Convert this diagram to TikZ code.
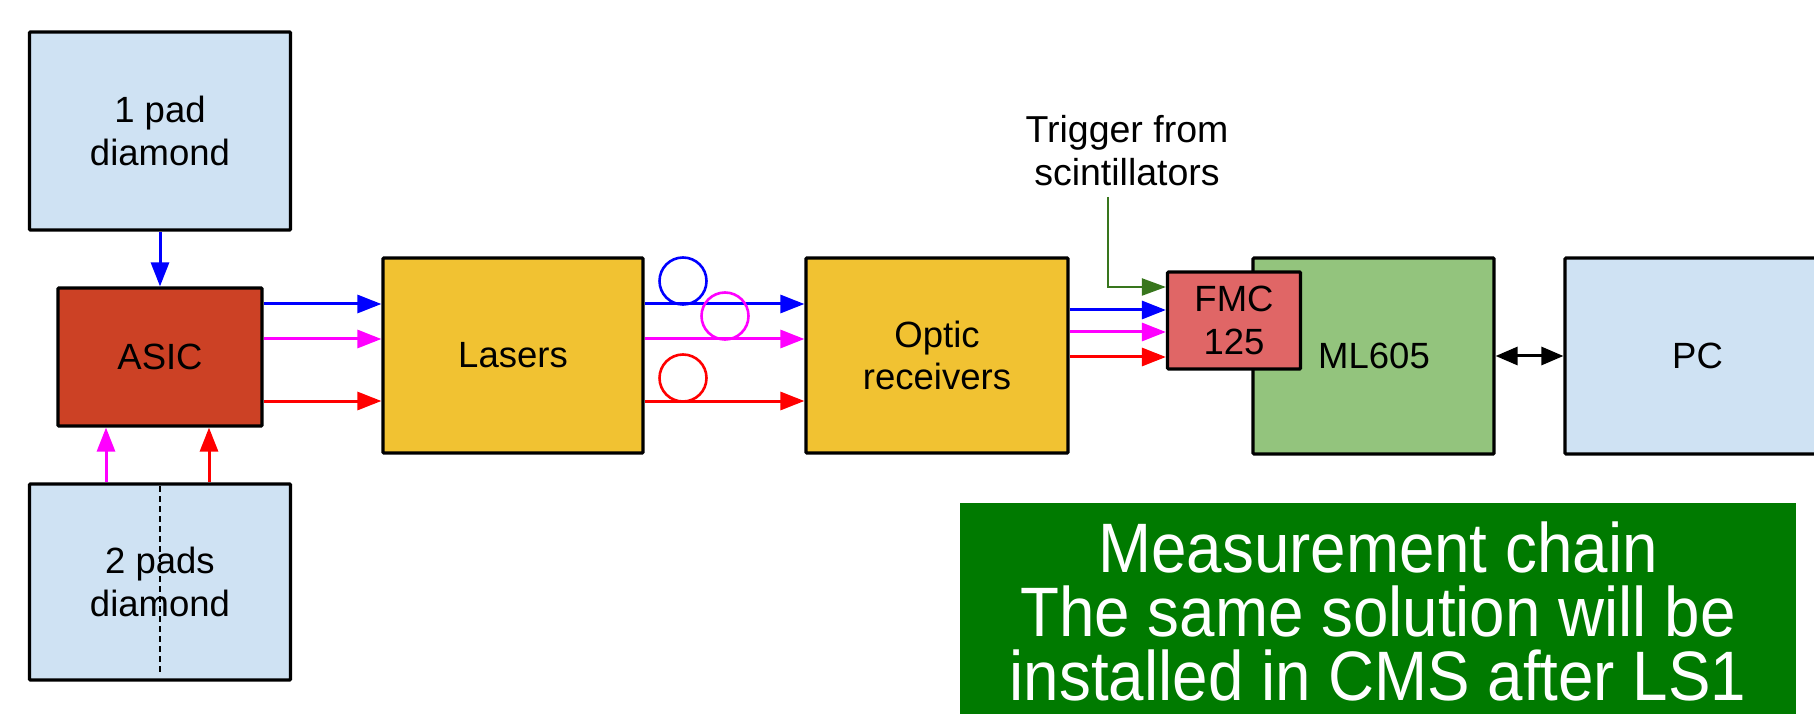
\documentclass[tikz,border=0pt]{standalone}
\usepackage{fontspec}
\setmainfont{Liberation Sans}
\newfontfamily\chainfont[FakeStretch=0.91]{Liberation Sans}
\usetikzlibrary{arrows.meta}
\definecolor{padblue}{HTML}{CFE2F3}
\definecolor{asicred}{HTML}{CC4125}
\definecolor{laseryellow}{HTML}{F1C232}
\definecolor{fmcred}{HTML}{E06666}
\definecolor{mlgreen}{HTML}{93C47D}
\definecolor{chaingreen}{HTML}{007A00}
\definecolor{triggreen}{HTML}{38761D}
\definecolor{sigblue}{HTML}{0000FF}
\definecolor{sigmag}{HTML}{FF00FF}
\definecolor{sigred}{HTML}{FF0000}
\begin{document}
\begin{tikzpicture}[x=1pt,y=1pt,
  box/.style={draw=black, line width=3.2pt, rounded corners=1pt, align=center,
    inner sep=0pt, font=\fontsize{36.5}{42.5}\selectfont},
  conn/.style={line width=3pt, -{Triangle[length=24pt,width=18pt]}},
  fibre/.style={line width=2.6pt},
  trigline/.style={draw=triggreen, line width=2.2pt, -{Triangle[length=24pt,width=17pt]}},
  biarrow/.style={line width=3pt, {Triangle[length=22pt,width=18pt]}-{Triangle[length=22pt,width=18pt]}},
]
\useasboundingbox (0,0) rectangle (1814,713);
\clip (0,0) rectangle (1814,713);

% boxes
\node[box, fill=padblue, minimum width=261pt, minimum height=198pt] (pad1) at (160,582) {1 pad\\diamond};
\node[box, fill=asicred, minimum width=204pt, minimum height=138pt] (asic) at (160,356) {ASIC};
\node[box, fill=padblue, minimum width=261pt, minimum height=196pt] (pad2) at (160,131) {2 pads\\diamond};
\node[box, fill=laseryellow, minimum width=260pt, minimum height=195pt] (lasers) at (513,357.5) {Lasers};
\node[box, fill=laseryellow, minimum width=262pt, minimum height=195pt] (optic) at (937,357.5) {Optic\\receivers};
\node[box, fill=mlgreen, minimum width=241pt, minimum height=196pt] (ml) at (1373.5,357) {};
\node[box, fill=fmcred, minimum width=133pt, minimum height=97pt] (fmc) at (1234,392.5) {FMC\\125};
\node[font=\fontsize{36.5}{42.5}\selectfont, inner sep=0pt] (mltext) at (1374,357) {ML605};
\node[box, fill=padblue, minimum width=265pt, minimum height=196pt] (pc) at (1697.5,357) {PC};

% dashed split of the 2-pad diamond
\coordinate (splittop) at (160,227);
\coordinate (splitbot) at (160,40);
\draw[line width=1.3pt, dash pattern=on 6pt off 4pt] (splittop) -- (splitbot);

% diamond -> ASIC
\draw[conn, sigblue] (pad1.south) -- (asic.north);
\draw[conn, sigmag] ([xshift=-54pt]pad2.north) -- ([xshift=-54pt]asic.south);
\draw[conn, sigred] ([xshift=49pt]pad2.north) -- ([xshift=49pt]asic.south);

% ASIC -> Lasers
\draw[conn, sigblue] ([yshift=53pt]asic.east) -- ([yshift=51.5pt]lasers.west);
\draw[conn, sigmag] ([yshift=18pt]asic.east) -- ([yshift=16.5pt]lasers.west);
\draw[conn, sigred] ([yshift=-44pt]asic.east) -- ([yshift=-45.5pt]lasers.west);

% Lasers -> Optic receivers (fibres)
\draw[conn, sigblue] ([yshift=51.5pt]lasers.east) -- ([yshift=51.5pt]optic.west);
\draw[conn, sigmag] ([yshift=16.5pt]lasers.east) -- ([yshift=16.5pt]optic.west);
\draw[conn, sigred] ([yshift=-45.5pt]lasers.east) -- ([yshift=-45.5pt]optic.west);
\draw[fibre, sigblue] (683,432) circle[x radius=23.5, y radius=23.5];
\draw[fibre, sigmag] (725,397) circle[x radius=23.5, y radius=23.5];
\draw[fibre, sigred] (683,335) circle[x radius=23.5, y radius=23.5];

% Optic receivers -> FMC
\draw[conn, sigblue] ([yshift=45.5pt]optic.east) -- ([yshift=10.5pt]fmc.west);
\draw[conn, sigmag] ([yshift=23.5pt]optic.east) -- ([yshift=-11.5pt]fmc.west);
\draw[conn, sigred] ([yshift=-1.5pt]optic.east) -- ([yshift=-36.5pt]fmc.west);

% trigger
\node[font=\fontsize{37.5}{43}\selectfont, align=center, inner sep=0pt] (trig) at (1127,562.5) {Trigger from\\scintillators};
\coordinate (trigstart) at (1108,516);
\draw[trigline] (trigstart) |- ([yshift=33.5pt]fmc.west);

% ML605 <-> PC
\draw[biarrow] (ml.east) -- (pc.west);

% caption box
\node[fill=chaingreen, text=white, minimum width=836pt, minimum height=217pt, inner sep=0pt,
  align=center, font=\chainfont\fontsize{70}{64}\selectfont] (chain) at (1378,101.5)
  {Measurement chain\\The same solution will be\\installed in CMS after LS1};
\end{tikzpicture}
\end{document}
